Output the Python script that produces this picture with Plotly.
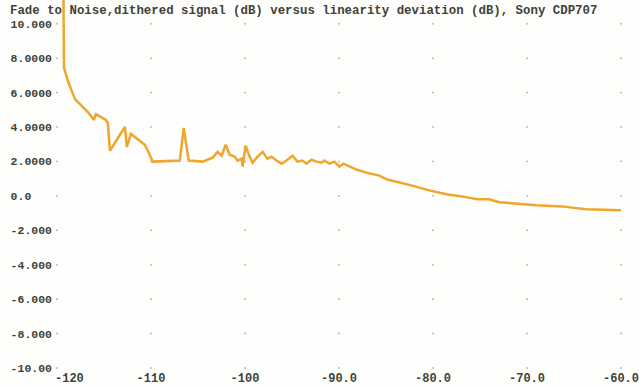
import plotly.graph_objects as go

# Signal level (dB) and linearity deviation (dB)
level_db = [-119.31, -119.26, -118.83, -118.09, -116.71, -116.07, -115.86, -114.80,
            -114.59, -114.37, -112.78, -112.57, -112.14, -110.66, -110.34, -109.81,
            -106.94, -106.52, -105.99, -104.50, -103.44, -102.91, -102.48, -102.06,
            -101.63, -101.10, -100.79, -100.36, -100.25, -99.94, -99.51, -99.19,
            -98.66, -98.13, -97.60, -97.18, -96.65, -96.11, -95.58, -94.95,
            -94.42, -93.89, -93.46, -92.93, -92.40, -91.87, -91.55, -91.02,
            -90.49, -89.96, -89.53, -89.11, -88.15, -87.09, -85.71, -84.86,
            -83.91, -82.31, -80.40, -78.60, -76.90, -75.31, -74.03, -72.97,
            -71.59, -69.04, -66.28, -63.74, -60.00]
deviation_db = [11.50, 7.46, 6.66, 5.62, 4.87, 4.41, 4.75, 4.41,
                4.24, 2.62, 4.01, 2.85, 3.60, 2.97, 2.62, 1.99,
                2.05, 3.95, 2.05, 1.99, 2.22, 2.56, 2.33, 2.97,
                2.39, 2.28, 2.05, 2.16, 1.70, 2.91, 2.28, 1.93,
                2.28, 2.56, 2.16, 2.28, 2.05, 1.87, 2.05, 2.33,
                1.99, 2.05, 1.87, 2.10, 1.99, 1.93, 2.05, 1.87,
                1.99, 1.70, 1.87, 1.76, 1.53, 1.35, 1.18, 0.95,
                0.84, 0.61, 0.32, 0.09, -0.03, -0.20, -0.20, -0.37,
                -0.43, -0.55, -0.61, -0.78, -0.84]

x_ticks = [-120, -110, -100, -90, -80, -70, -60]
x_tick_labels = ["-120", "-110", "-100", "-90.0", "-80.0", "-70.0", "-60.0"]
y_ticks = [10, 8, 6, 4, 2, 0, -2, -4, -6, -8, -10]
y_tick_labels = ["10.000", "8.0000", "6.0000", "4.0000", "2.0000", "0.0\u00a0\u00a0\u00a0",
                 "-2.000", "-4.000", "-6.000", "-8.000", "-10.00"]

title_text = "Fade to Noise,dithered signal (dB) versus linearity deviation (dB), Sony CDP707"

FONT = "Liberation Mono"
TEXT_COLOR = "#3e4236"
tick_font = dict(family=FONT, size=12, color=TEXT_COLOR, weight="bold")
y_tick_font = dict(family=FONT, size=11.5, color=TEXT_COLOR, weight="bold")

fig = go.Figure()

# faint dots where grid lines would cross
gx = [x for x in x_ticks for _ in y_ticks]
gy = [y for _ in x_ticks for y in y_ticks]
fig.add_trace(go.Scatter(
    x=gx, y=gy, mode="markers",
    marker=dict(size=2, color="#b9bdb0"),
    hoverinfo="skip", showlegend=False, cliponaxis=False,
))

fig.add_trace(go.Scatter(
    x=level_db, y=deviation_db, mode="lines",
    line=dict(color="#F0A52C", width=2.5),
    showlegend=False,
))

# first bottom label sits to the right of its tick, clear of the y labels
first_x = x_ticks[:1]
first_label = x_tick_labels[:1]

fig.update_layout(
    width=639, height=386,
    margin=dict(l=57, r=17, t=0, b=15),
    paper_bgcolor="#fefefc", plot_bgcolor="#fefefc",
    title=dict(
        text=title_text, x=10 / 639, xanchor="left",
        y=1 - 9.5 / 386, yanchor="middle", yref="container",
        font=dict(family=FONT, size=12.4, color=TEXT_COLOR, weight="bold"),
    ),
    xaxis=dict(
        range=[-120, -60], tickvals=x_ticks[1:], ticktext=x_tick_labels[1:],
        showgrid=False, zeroline=False, showline=False, ticks="",
        tickfont=tick_font, ticklabelstandoff=1, ticklabeloverflow="allow",
    ),
    xaxis2=dict(
        range=[-120, -60], overlaying="x", side="bottom", anchor="y",
        tickvals=first_x, ticktext=first_label,
        ticklabelposition="outside right", ticklabelshift=-2,
        showgrid=False, zeroline=False, showline=False, ticks="",
        tickfont=tick_font, ticklabelstandoff=1, ticklabeloverflow="allow",
    ),
    yaxis=dict(
        range=[-10, 11.38], tickvals=y_ticks, ticktext=y_tick_labels,
        showgrid=False, zeroline=False, showline=False, ticks="",
        tickfont=y_tick_font, ticklabelstandoff=4,
    ),
)

# invisible trace so the second x axis is drawn
fig.add_trace(go.Scatter(
    x=first_x, y=[0], xaxis="x2", mode="markers",
    marker=dict(size=0.1, opacity=0), hoverinfo="skip", showlegend=False,
))

fig.write_html("out.html")
